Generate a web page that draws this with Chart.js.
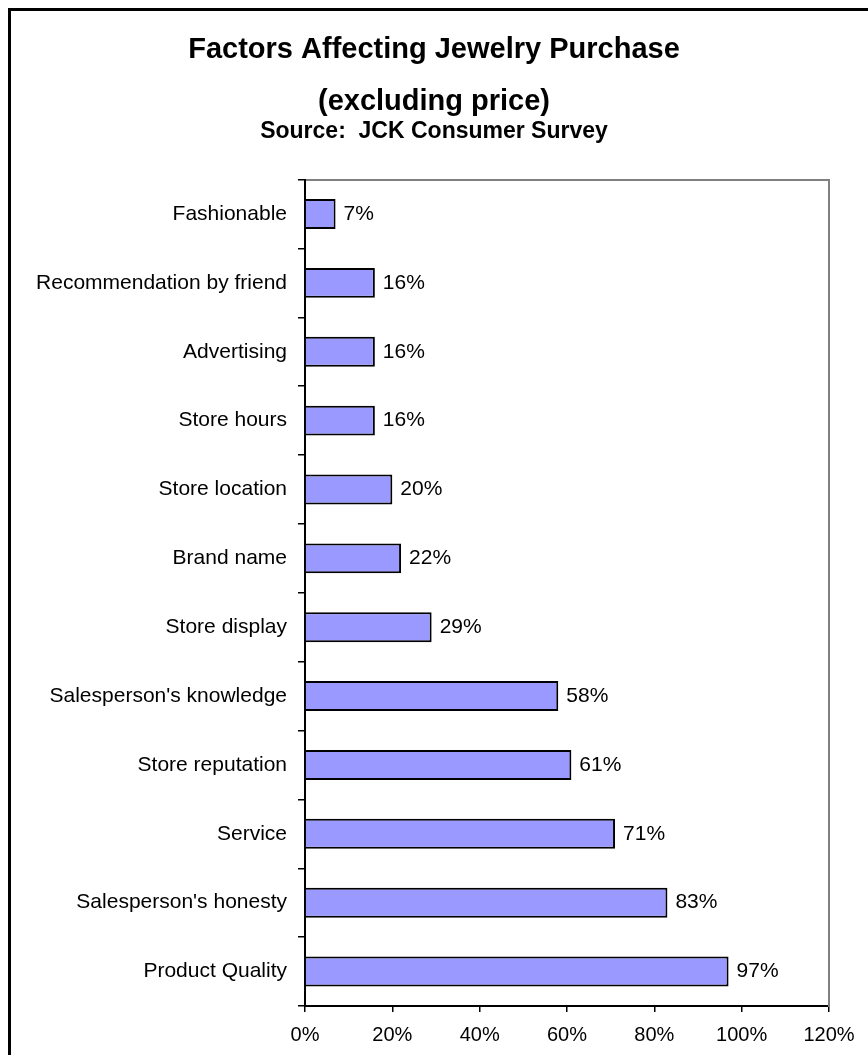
<!DOCTYPE html>
<html>
<head>
<meta charset="utf-8">
<script src="https://cdn.jsdelivr.net/npm/chart.js@4/dist/chart.umd.min.js"></script>
<style>
  html, body { margin: 0; padding: 0; background: #fff; overflow: hidden; }
  #wrap { position: relative; width: 868px; height: 1055px; }
  #frame { position: absolute; left: 8px; top: 8px; width: 900px; height: 1100px;
           border-left: 3px solid #000; border-top: 3px solid #000; box-sizing: border-box; }
  canvas { position: absolute; left: 0; top: 0; }
</style>
</head>
<body>
<div id="wrap">
  <div id="frame"></div>
  <canvas id="c" width="868" height="1055"></canvas>
</div>
<script>
const titleLines = ['Factors Affecting Jewelry Purchase', '(excluding price)'];
const subtitleText = 'Source:  JCK Consumer Survey';
const categories = [
  'Fashionable',
  'Recommendation by friend',
  'Advertising',
  'Store hours',
  'Store location',
  'Brand name',
  'Store display',
  "Salesperson's knowledge",
  'Store reputation',
  'Service',
  "Salesperson's honesty",
  'Product Quality'
];
const values = [7, 16, 16, 16, 20, 22, 29, 58, 61, 71, 83, 97];
const valueLabels = ['7%', '16%', '16%', '16%', '20%', '22%', '29%', '58%', '61%', '71%', '83%', '97%'];
const xTickLabels = ['0%', '20%', '40%', '60%', '80%', '100%', '120%'];

const FONT = "'Liberation Sans', Arial, sans-serif";

const valueLabelPlugin = {
  id: 'valueLabels',
  afterDatasetsDraw(chart) {
    const ctx = chart.ctx;
    const meta = chart.getDatasetMeta(0);
    ctx.save();
    ctx.font = '21px ' + FONT;
    ctx.fillStyle = '#000';
    ctx.textAlign = 'left';
    ctx.textBaseline = 'middle';
    meta.data.forEach((bar, i) => {
      ctx.fillText(valueLabels[i], bar.x + 8, bar.y);
    });
    ctx.restore();
  }
};

new Chart(document.getElementById('c'), {
  type: 'bar',
  data: {
    labels: categories,
    datasets: [{
      data: values,
      backgroundColor: '#9999FF',
      borderColor: '#000000',
      borderWidth: 2,
      borderSkipped: 'start',
      barPercentage: 0.435,
      categoryPercentage: 1.0
    }]
  },
  options: {
    indexAxis: 'y',
    responsive: false,
    animation: false,
    devicePixelRatio: 1,
    layout: { padding: { top: 24, left: 0, right: 0, bottom: 0 } },
    plugins: {
      legend: { display: false },
      tooltip: { enabled: false },
      title: {
        display: true,
        text: titleLines,
        color: '#000',
        font: { family: FONT, size: 29, weight: 'bold', lineHeight: 1.793 },
        padding: { top: 0, bottom: -10 }
      },
      subtitle: {
        display: true,
        text: subtitleText,
        color: '#000',
        font: { family: FONT, size: 23, weight: 'bold', lineHeight: 1.2 },
        padding: { top: 0, bottom: 34 }
      }
    },
    scales: {
      x: {
        type: 'linear',
        position: 'bottom',
        min: 0,
        max: 120,
        ticks: {
          stepSize: 20,
          color: '#000',
          font: { family: FONT, size: 20 },
          padding: 11,
          maxRotation: 0,
          callback: (v, i) => xTickLabels[i]
        },
        grid: { drawOnChartArea: false, drawTicks: true, tickLength: 6, color: '#000', lineWidth: 1.5 },
        border: { display: true, color: '#000', width: 2 },
        afterFit: (s) => { s.height = 49; }
      },
      xTop: {
        type: 'linear',
        position: 'top',
        min: 0,
        max: 120,
        ticks: { display: false },
        grid: { display: false },
        border: { display: true, color: '#808080', width: 2 },
        afterFit: (s) => { s.height = 0; }
      },
      y: {
        type: 'category',
        position: 'left',
        ticks: {
          color: '#000',
          font: { family: FONT, size: 21 },
          padding: 11
        },
        grid: { drawOnChartArea: false, drawTicks: true, tickLength: 7, offset: true, color: '#000', lineWidth: 1.5 },
        border: { display: true, color: '#000', width: 2 },
        afterFit: (s) => { s.width = 305; }
      },
      yRight: {
        type: 'linear',
        position: 'right',
        min: 0,
        max: 1,
        ticks: { display: false },
        grid: { display: false },
        border: { display: true, color: '#808080', width: 2 },
        afterFit: (s) => { s.width = 39; }
      }
    }
  },
  plugins: [valueLabelPlugin]
});
</script>
</body>
</html>
